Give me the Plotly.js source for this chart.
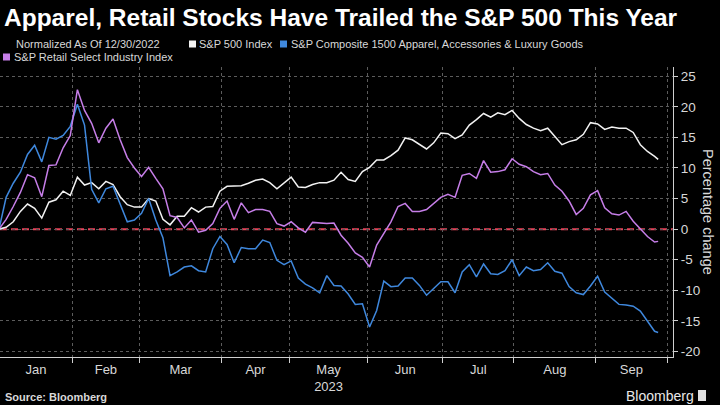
<!DOCTYPE html>
<html>
<head>
<meta charset="utf-8">
<script src="https://cdn.plot.ly/plotly-3.0.1.min.js"></script>
<style>html,body{margin:0;padding:0;background:#000;}#chart{width:720px;height:405px;}</style>
</head>
<body>
<div id="chart"></div>
<script>
// ---- data (percent change since 12/30/2022, every other trading day) ----
const dates = [
 "2022-12-30","2023-01-04","2023-01-06","2023-01-10","2023-01-12","2023-01-17","2023-01-19","2023-01-23","2023-01-25","2023-01-27",
 "2023-01-31","2023-02-02","2023-02-06","2023-02-08","2023-02-10","2023-02-14","2023-02-16","2023-02-21","2023-02-23","2023-02-27",
 "2023-03-01","2023-03-03","2023-03-07","2023-03-09","2023-03-13","2023-03-15","2023-03-17","2023-03-21","2023-03-23","2023-03-27",
 "2023-03-29","2023-03-31","2023-04-04","2023-04-06","2023-04-11","2023-04-13","2023-04-17","2023-04-19","2023-04-21","2023-04-25",
 "2023-04-27","2023-05-01","2023-05-03","2023-05-05","2023-05-09","2023-05-11","2023-05-15","2023-05-17","2023-05-19","2023-05-23",
 "2023-05-25","2023-05-30","2023-06-01","2023-06-05","2023-06-07","2023-06-09","2023-06-13","2023-06-15","2023-06-20","2023-06-22",
 "2023-06-26","2023-06-28","2023-06-30","2023-07-05","2023-07-07","2023-07-11","2023-07-13","2023-07-17","2023-07-19","2023-07-21",
 "2023-07-25","2023-07-27","2023-07-31","2023-08-02","2023-08-04","2023-08-08","2023-08-10","2023-08-14","2023-08-16","2023-08-18",
 "2023-08-22","2023-08-24","2023-08-28","2023-08-30","2023-09-01","2023-09-06","2023-09-08","2023-09-12","2023-09-14","2023-09-18",
 "2023-09-20","2023-09-22","2023-09-26","2023-09-27"
];
const sp500 = [
 0, 0.3, 1.2, 2.9, 4.1, 3.4, 1.8, 4.4, 4.8, 6.2,
 5.5, 8.5, 7.2, 7.6, 6.6, 7.8, 7.3, 5.3, 4.0, 3.6,
 3.6, 5.0, 4.6, 1.6, 0.7, 2.1, 2.1, 3.5, 2.8, 3.6,
 3.7, 6.2, 7.0, 7.0, 7.1, 7.5, 8.0, 8.2, 7.6, 6.6,
 7.5, 8.5, 6.9, 6.8, 7.3, 7.6, 7.6, 8.0, 9.3, 8.1,
 7.8, 9.4, 10.1, 11.3, 11.3, 12.0, 12.9, 14.9, 14.6, 13.9,
 13.1, 14.1, 15.7, 15.6, 14.8, 15.4, 17.0, 17.9, 18.9, 18.3,
 19.0, 18.7, 19.4, 18.1, 17.1, 16.5, 16.1, 16.5, 15.2, 13.8,
 14.3, 14.6, 15.5, 17.4, 17.2, 16.3, 16.7, 16.5, 16.5, 15.8,
 13.8, 12.7, 11.9, 11.4
];
const apparel = [
 0, 5.2, 7.5, 9.3, 12.2, 13.7, 11.0, 15.0, 14.7, 15.3,
 16.8, 20.4, 17.0, 6.5, 4.3, 6.6, 7.0, 4.0, 1.2, 1.5,
 2.6, 5.0, 1.5, -1.4, -7.6, -7.0, -6.2, -6.0, -6.8, -7.0,
 -3.2, -1.2, -2.5, -5.5, -3.0, -3.2, -3.2, -1.8, -2.2, -5.1,
 -5.8, -5.2, -8.0, -9.0, -9.6, -10.4, -7.6, -9.2, -9.3, -10.6,
 -12.3, -12.2, -16.0, -13.3, -8.5, -9.4, -9.3, -8.0, -8.0, -9.2,
 -10.8, -9.7, -8.6, -8.6, -10.4, -7.0, -5.8, -7.8, -5.7, -7.3,
 -7.4, -6.8, -5.0, -7.6, -6.2, -6.8, -6.6, -5.5, -6.9, -7.2,
 -9.4, -10.4, -10.7, -9.3, -7.7, -10.3, -11.3, -12.3, -12.4, -12.6,
 -13.4, -15.0, -16.7, -16.9
];
const retail = [
 0, 1.6, 3.7, 6.0, 8.9, 8.4, 5.3, 10.4, 10.5, 13.3,
 15.3, 22.8, 19.4, 17.3, 14.1, 16.5, 18.0, 14.6, 11.7, 10.0,
 8.6, 10.1, 8.3, 6.6, 2.2, 1.9, 0.2, 1.5, -0.5, -0.2,
 0.9, 3.4, 4.6, 1.6, 4.3, 2.7, 3.2, 3.2, 2.9, 0.9,
 0.5, 1.2, 0.2, -0.5, 1.1, 1.0, 0.9, 1.0, -1.0, -2.3,
 -3.9, -4.6, -6.2, -2.6, -0.6, 1.2, 3.7, 4.2, 2.9, 2.9,
 3.2, 4.2, 5.2, 5.7, 5.2, 8.8, 9.1, 8.3, 11.2, 9.3,
 9.4, 9.7, 11.5, 10.6, 10.2, 9.4, 8.9, 9.1, 7.2, 6.2,
 4.6, 2.4, 3.4, 5.6, 6.3, 3.5, 2.5, 2.3, 2.9, 1.3,
 0.1, -1.2, -2.1, -2.0
];
const seriesNames = ["S&P 500 Index", "S&P Composite 1500 Apparel, Accessories & Luxury Goods", "S&P Retail Select Industry Index"];
const monthText = ["Jan","Feb","Mar","Apr","May<br>2023","Jun","Jul","Aug","Sep"];
const monthMid = ["2023-01-17 09:36","2023-02-14","2023-03-16","2023-04-17","2023-05-15 12:00","2023-06-15","2023-07-17 12:00","2023-08-16","2023-09-15 12:00"];
const monthEdges = ["2023-01-31 12:00","2023-02-28 12:00","2023-03-31 12:00","2023-04-28 12:00","2023-05-31 12:00","2023-06-30 12:00","2023-07-31 12:00","2023-08-31 12:00","2023-09-29 12:00"];
const yTicks = [-20,-15,-10,-5,0,5,10,15,20,25];
const yTickText = ["-20","-15","-10","-5","0","5","10","15","20","25"];
const holidays = ["2023-01-02","2023-01-16","2023-02-20","2023-04-07","2023-05-29","2023-06-19","2023-07-04","2023-09-04"];

// ---- styling ----
const colors = ["#f2f2f2", "#3f88dd", "#c67ee8"];
const values = [sp500, apparel, retail];
const xRange = ["2022-12-30 06:40", "2023-10-03 04:00"];
const breaks = [{bounds:["sat","mon"]},{values:holidays}];
const M = {l:0, r:47, t:67, b:48};
const PW = 720 - M.l - M.r, PH = 405 - M.t - M.b;
const px = x => (x - M.l) / PW;
const py = y => (405 - M.b - y) / PH;

const traces = values.map((v, k) => ({
  x: dates, y: v, type: "scatter", mode: "lines", name: seriesNames[k],
  line: {color: colors[k], width: 1.5}, showlegend: false, hoverinfo: "skip"
}));
traces.push({x:[dates[0]], y:[null], xaxis:"x2", yaxis:"y", type:"scatter", mode:"lines", showlegend:false, hoverinfo:"skip"});

const txt = "#d8d8d8";
const font = "Liberation Sans, Arial, sans-serif";
// legend entries: [square left px, row center px, text left px]
const legendPos = [[189, 44, 197], [280, 44, 289], [3, 57, 12]];
const annotations = [
  {xref:"paper", yref:"paper", x:px(14), y:py(44), xanchor:"left", yanchor:"middle", showarrow:false,
   text:"Normalized As Of 12/30/2022", font:{family:font, size:11, color:txt}},
  {xref:"paper", yref:"paper", x:px(708), y:py(212), xanchor:"center", yanchor:"middle", showarrow:false,
   textangle:90, text:"Percentage change", font:{family:font, size:14.5, color:txt}},
  {xref:"paper", yref:"paper", x:px(3), y:py(397), xanchor:"left", yanchor:"middle", showarrow:false,
   text:"<b>Source: Bloomberg</b>", font:{family:font, size:11, color:txt}},
  {xref:"paper", yref:"paper", x:px(696), y:py(396), xanchor:"right", yanchor:"middle", showarrow:false,
   text:"Bloomberg", font:{family:font, size:14, color:"#e8e8e8"}}
];
const shapes = [
  {type:"line", xref:"paper", x0:0, x1:1, yref:"y", y0:0, y1:0, layer:"below",
   line:{color:"#e8435a", width:2, dash:"7px,4px"}},
  {type:"rect", xref:"paper", yref:"paper", x0:px(698), x1:px(706), y0:py(401), y1:py(390),
   fillcolor:"#e0e0e0", line:{width:0}}
];
legendPos.forEach((p, k) => {
  shapes.push({type:"rect", xref:"paper", yref:"paper", x0:px(p[0]), x1:px(p[0] + 7),
               y0:py(p[1] + 3.5), y1:py(p[1] - 3.5), fillcolor:colors[k], line:{width:0}});
  annotations.push({xref:"paper", yref:"paper", x:px(p[2]), y:py(p[1]), xanchor:"left", yanchor:"middle",
                    showarrow:false, text:seriesNames[k], font:{family:font, size:11, color:txt}});
});

const layout = {
  width: 720, height: 405, margin: M,
  paper_bgcolor: "#000", plot_bgcolor: "#000",
  font: {family: font, color: txt},
  title: {text: "<b>Apparel, Retail Stocks Have Trailed the S&P 500 This Year</b>",
          xref: "container", yref: "container", x: 4/720, xanchor: "left", y: 1 - 17/405, yanchor: "middle",
          font: {family: font, size: 24.5, color: "#ffffff"}},
  xaxis: {type:"date", range:xRange, rangebreaks:breaks, tickmode:"array", tickvals:monthMid, ticktext:monthText,
          ticks:"", showgrid:false, zeroline:false, showline:true, linecolor:"#cfcfcf", linewidth:1,
          tickfont:{family:font, size:13, color:txt}, fixedrange:true},
  xaxis2: {type:"date", overlaying:"x", anchor:"y", side:"bottom", range:xRange, rangebreaks:breaks,
           tickmode:"array", tickvals:monthEdges, showticklabels:false, ticks:"outside", ticklen:5,
           tickcolor:"#cfcfcf", showgrid:true, gridcolor:"#5c5c5c", griddash:"dot", gridwidth:1,
           zeroline:false, showline:false, fixedrange:true},
  yaxis: {side:"right", range:[-20.9, 26.5], tickmode:"array", tickvals:yTicks, ticktext:yTickText,
          ticks:"outside", ticklen:4, tickcolor:"#cfcfcf", showline:true, linecolor:"#cfcfcf", linewidth:1,
          showgrid:true, gridcolor:"#5c5c5c", griddash:"dot", gridwidth:1, zeroline:false,
          tickfont:{family:font, size:13.5, color:txt}, fixedrange:true},
  shapes: shapes,
  annotations: annotations,
  showlegend: false
};

Plotly.newPlot("chart", traces, layout, {staticPlot:true, displayModeBar:false});
</script>
</body>
</html>
